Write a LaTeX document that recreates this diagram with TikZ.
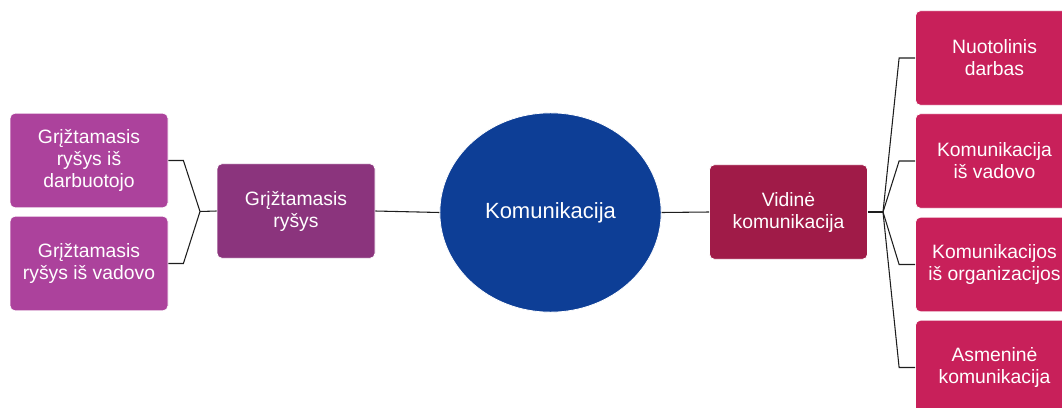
\documentclass[tikz,border=0pt]{standalone}
\usepackage{fontspec}
\setmainfont{Liberation Sans}
\usetikzlibrary{shapes.geometric}
\definecolor{leafL}{RGB}{172,66,156}
\definecolor{midL}{RGB}{139,52,125}
\definecolor{core}{RGB}{13,62,150}
\definecolor{midR}{RGB}{160,27,72}
\definecolor{leafR}{RGB}{200,32,90}
\definecolor{wire}{RGB}{30,30,30}
\tikzset{
  box/.style={rectangle, rounded corners=3.75pt, draw=white, line width=0.6pt, text=white,
    align=center, inner sep=0pt, minimum width=118.5pt, minimum height=71pt,
    font=\fontsize{14.5}{16.5}\selectfont},
  leafl/.style={box, fill=leafL},
  midl/.style={box, fill=midL},
  midr/.style={box, fill=midR},
  leafr/.style={box, fill=leafR},
  hub/.style={ellipse, fill=core, draw=white, line width=0.6pt, text=white, inner sep=0pt,
    minimum width=166pt, minimum height=149.5pt, font=\fontsize{16.5}{19}\selectfont},
  wire/.style={draw=wire, line width=0.8pt}
}
\begin{document}
\begin{tikzpicture}[x=0.75pt,y=-0.75pt]
\useasboundingbox (0,0) rectangle (1062,407);
\node[hub] (k) at (550.5,212.5) {Komunikacija};
\node[leafl] (la) at (89,160.5) {Grįžtamasis\\ryšys iš\\darbuotojo};
\node[leafl] (lb) at (89,263.5) {Grįžtamasis\\ryšys iš vadovo};
\node[midl] (gr) at (296,211) {Grįžtamasis\\ryšys};
\node[midr] (vk) at (788.5,212) {Vidinė\\komunikacija};
\node[leafr] (r1) at (994.5,58) {Nuotolinis\\darbas};
\node[leafr] (r2) at (994.5,161) {Komunikacija\\iš vadovo};
\node[leafr] (r3) at (994.5,264.5) {Komunikacijos\\iš organizacijos};
\node[leafr] (r4) at (994.5,367.5) {Asmeninė\\komunikacija};
\coordinate (fl) at (200,211.5);
\coordinate (fr) at (883,212);
\draw[wire] (la.east) -- ++(15,0) -- (fl);
\draw[wire] (lb.east) -- ++(15,0) -- (fl);
\draw[wire] (fl) -- (gr.west);
\draw[wire] (gr.east) -- (k.west);
\draw[wire] (k.east) -- (vk.west);
\draw[wire] (vk.east) -- (fr);
\foreach \r in {r1,r2,r3,r4}{
  \draw[wire] (fr) -- ([xshift=-12pt]\r.west) -- (\r.west);
}
\end{tikzpicture}
\end{document}
